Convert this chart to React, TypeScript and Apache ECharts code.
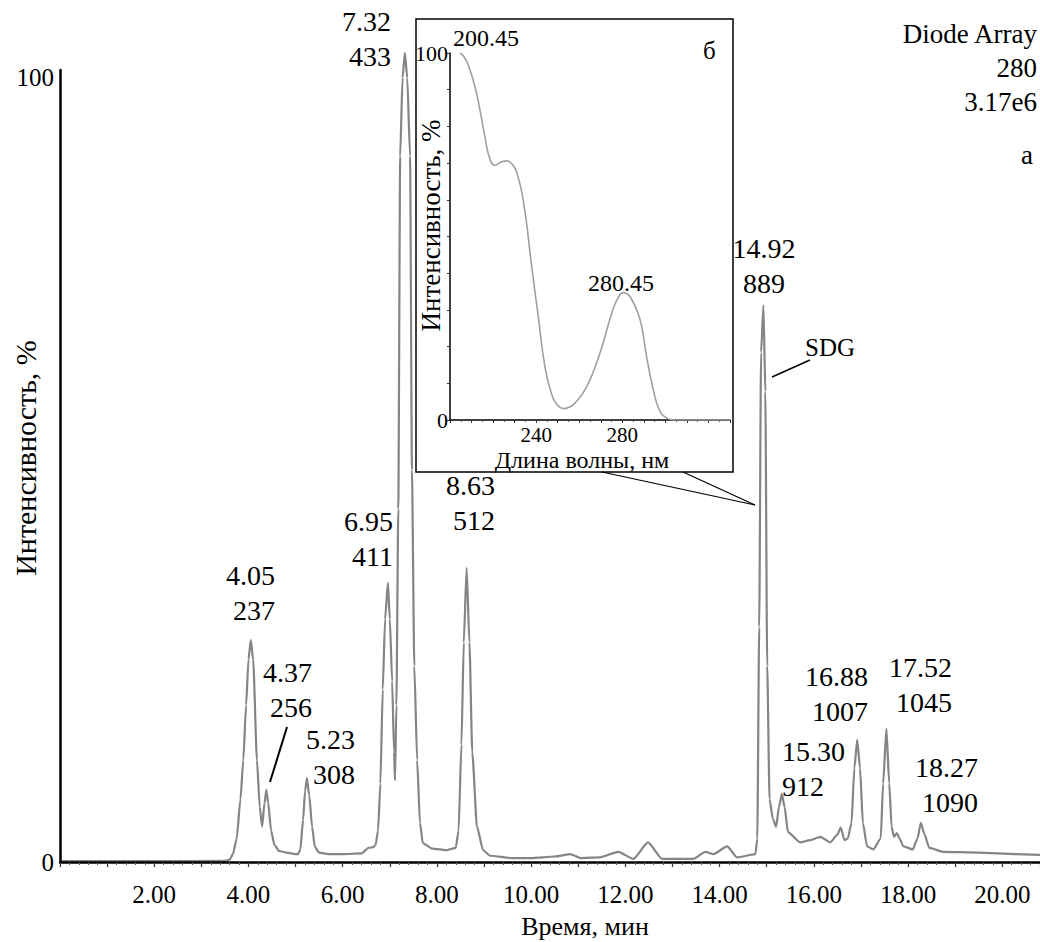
import React, { useEffect, useRef } from "react";
import * as echarts from "echarts";

const FONT = "Liberation Serif";

// Chromatogram (Diode Array, 280 nm): retention time, min / relative intensity, %
const chromTime = [
  0, 2.0, 3.5, 3.6, 3.67, 3.75, 3.83, 3.89, 3.95, 4.0, 4.05, 4.1, 4.18, 4.24, 4.29, 4.34, 4.38, 4.42,
  4.48, 4.55, 4.65, 4.8, 5.0, 5.05, 5.1, 5.16, 5.2, 5.24, 5.29, 5.35, 5.41, 5.5, 5.7, 6.0, 6.4, 6.55,
  6.65, 6.7, 6.75, 6.8, 6.85, 6.9, 6.96, 7.0, 7.05, 7.09, 7.11, 7.14, 7.18, 7.22, 7.27, 7.32, 7.37,
  7.43, 7.47, 7.52, 7.58, 7.64, 7.7, 7.9, 8.2, 8.4, 8.46, 8.52, 8.57, 8.63, 8.69, 8.75, 8.85, 8.98,
  9.13, 9.6, 10.0, 10.5, 10.83, 11.05, 11.46, 11.85, 12.17, 12.48, 12.78, 13.44, 13.7, 13.87, 14.16,
  14.37, 14.76, 14.8, 14.84, 14.88, 14.93, 14.97, 15.01, 15.06, 15.13, 15.2, 15.26, 15.32, 15.38,
  15.45, 15.71, 15.92, 16.14, 16.35, 16.5, 16.57, 16.65, 16.72, 16.8, 16.86, 16.92, 16.98, 17.04,
  17.13, 17.26, 17.42, 17.47, 17.54, 17.6, 17.65, 17.7, 17.76, 17.82, 17.9, 18.1, 18.2, 18.27, 18.35,
  18.45, 18.75, 19.5, 20.3, 20.8,
];
const chromIntensity = [
  0.1, 0.1, 0.15, 0.3, 1.0, 3, 8, 13, 20, 25.8, 28.3, 25.8, 13, 7, 4.5, 7.5, 9.2, 7.5,
  4, 2.2, 1.4, 1.2, 1.0, 1.0, 1.6, 5.4, 9, 10.7, 8.5, 4.5, 1.9, 1.2, 1.0, 1.0, 1.1, 1.8,
  1.9, 2.2, 4, 10, 22, 31, 35.6, 31, 23, 14, 10.4, 20, 45, 90, 100, 103.2, 100,
  90, 50, 25, 13, 5, 2.4, 1.7, 1.5, 1.8, 4, 15, 28, 37.5, 28, 14, 4.5, 1.5,
  0.8, 0.5, 0.5, 0.7, 1.0, 0.5, 0.6, 1.3, 0.4, 2.5, 0.4, 0.4, 1.3, 1.0, 2.0,
  0.6, 1.0, 3, 30, 65, 71.0, 60, 25, 8, 5.5, 4.5, 7, 8.7, 7,
  3.8, 2.5, 2.8, 3.2, 2.5, 3.5, 4.4, 2.8, 3.0, 5, 12, 15.6, 12, 5,
  2, 1.6, 3, 10, 17.0, 10, 4.5, 3.2, 3.7, 3.0, 2, 1.6, 3, 5.0, 3.5,
  1.8, 1.3, 1.2, 1.0, 0.9,
];

// Inset (б): UV spectrum of the 14.92 min peak: wavelength, nm / intensity, %
const spectrumWavelength = [
  204.6, 206.5, 208.5, 211.6, 213.9, 216.2, 218.6, 220.9, 223.5, 226.3, 229.0, 231.0, 234.0, 237.9,
  241.0, 244.1, 247.2, 250.0, 252.5, 255.0, 258.0, 263.5, 269.6, 275.1, 278.0, 280.5, 282.5, 284.4,
  287.0, 289.0, 291.3, 294.4, 297.0, 300.0, 305.2, 330,
];
const spectrumIntensity = [
  100, 99.0, 96.7, 90.8, 84.5, 77.2, 71.0, 69.4, 70.2, 70.6, 69.6, 67.5, 60.0, 42.0,
  28.1, 14.5, 7.0, 4.0, 3.1, 3.4, 4.6, 9.1, 18.2, 29.1, 33.3, 34.7, 34.3, 32.8,
  29.5, 25.5, 17.2, 8.2, 3.0, 0.8, 0, 0,
];

// Peak annotations: retention time / scan number
const peakRetention = ["4.05", "4.37", "5.23", "6.95", "7.32", "8.63", "14.92", "15.30", "16.88", "17.52", "18.27"];
const peakScan = ["237", "256", "308", "411", "433", "512", "889", "912", "1007", "1045", "1090"];

// Tick labels
const timeTickLabels = ["2.00", "4.00", "6.00", "8.00", "10.00", "12.00", "14.00", "16.00", "18.00", "20.00"];
const intensityTickLabels = ["0", "100"];
const wavelengthTickLabels = ["240", "280"];

// Header texts
const headerLines = ["Diode Array", "280", "3.17e6"];

// Layout of annotation text blocks (pixel positions)
const peakLabelLayout: [number, number, string][] = [
  [275, 558, "right"],
  [312, 655, "right"],
  [355, 722, "right"],
  [393, 504, "right"],
  [391, 4, "right"],
  [495, 468, "right"],
  [764, 231, "center"],
  [782, 734, "left"],
  [868, 659, "right"],
  [952, 650, "right"],
  [978, 750, "right"],
];

function txt(text: string, x: number, y: number, size: number, align = "left", va = "middle", lh?: number) {
  return {
    type: "text",
    x,
    y,
    z: 30,
    style: {
      text,
      fontSize: size,
      fontFamily: FONT,
      fill: "#000",
      align,
      verticalAlign: va,
      textAlign: align,
      textVerticalAlign: va,
      lineHeight: lh,
    },
  };
}

function line(x1: number, y1: number, x2: number, y2: number, w: number, z = 20) {
  return { type: "line", z, shape: { x1, y1, x2, y2 }, style: { stroke: "#000", lineWidth: w } };
}

export default function App() {
  const ref = useRef<HTMLDivElement>(null);

  useEffect(() => {
    if (!ref.current) return;
    const chart = echarts.init(ref.current, null, { renderer: "svg" });

    const chromData = chromTime.map((t, i) => [t, chromIntensity[i]]);
    const specData = spectrumWavelength.map((w, i) => [w, spectrumIntensity[i]]);

    const isInt = (v: number) => Math.abs(v - Math.round(v)) < 1e-6;

    const graphic: any[] = [
      {
        type: "rect",
        z: 5,
        shape: { x: 416, y: 19, width: 317, height: 453 },
        style: { fill: "#fff", stroke: "#000", lineWidth: 1.5 },
      },
      line(602, 472, 755, 505, 1.2, 6),
      line(683, 472, 755, 505, 1.2, 6),
      line(772, 377, 810, 360, 1.5),
      line(287, 727, 270, 782, 2),
      txt(headerLines.join("\n"), 1037, 17, 27, "right", "top", 34),
      txt("а", 1033, 155, 27, "right", "middle"),
      txt("SDG", 805, 347, 25, "left", "middle"),
      txt("200.45", 453, 38, 24, "left", "middle"),
      txt("б", 703, 50, 25, "left", "middle"),
      txt("280.45", 588, 283, 24, "left", "middle"),
    ];
    peakRetention.forEach((rt, i) => {
      const [x, y, align] = peakLabelLayout[i];
      graphic.push(txt(rt + "\n" + peakScan[i], x, y, 28, align, "top", 35));
    });

    chart.setOption({
      animation: false,
      backgroundColor: "#fff",
      textStyle: { fontFamily: FONT, color: "#000" },
      grid: [
        { left: 60, top: 70, width: 980, height: 792, outerBoundsMode: "none", containLabel: false },
        { left: 450, top: 53, width: 280, height: 367, outerBoundsMode: "none", containLabel: false },
      ],
      xAxis: [
        {
          type: "value",
          gridIndex: 0,
          min: 0,
          max: 20.8,
          interval: 1,
          z: 4,
          axisLine: { onZero: false, lineStyle: { color: "#000", width: 2.5 } },
          axisTick: { length: 5, lineStyle: { color: "#333", width: 1.2 } },
          minorTick: { show: true, splitNumber: 5, length: 3, lineStyle: { color: "#555", width: 1 } },
          splitLine: { show: false },
          axisLabel: {
            margin: 20,
            fontSize: 25,
            color: "#000",
            fontFamily: FONT,
            formatter: (v: number) => {
              if (!isInt(v)) return "";
              const r = Math.round(v);
              if (r % 2 !== 0 || r === 0) return "";
              return timeTickLabels[r / 2 - 1] ?? "";
            },
          },
          name: "Время, мин",
          nameLocation: "middle",
          nameGap: 51,
          nameMoveOverlap: false,
          nameTextStyle: { fontSize: 26, color: "#000", fontFamily: FONT, padding: [0, 0, 0, 70] },
        },
        {
          type: "value",
          gridIndex: 1,
          min: 200,
          max: 330,
          interval: 10,
          z: 10,
          axisLine: { onZero: false, lineStyle: { color: "#000", width: 1.5 } },
          axisTick: { length: 3, lineStyle: { color: "#333", width: 1 } },
          minorTick: { show: true, splitNumber: 2, length: 2, lineStyle: { color: "#555", width: 1 } },
          splitLine: { show: false },
          axisLabel: {
            margin: 4,
            fontSize: 21,
            color: "#000",
            fontFamily: FONT,
            formatter: (v: number) => (wavelengthTickLabels.includes(String(v)) ? String(v) : ""),
          },
          name: "Длина волны, нм",
          nameLocation: "middle",
          nameGap: 28,
          nameMoveOverlap: false,
          nameTextStyle: { fontSize: 24, color: "#000", fontFamily: FONT, padding: [0, 16, 0, 0] },
        },
      ],
      yAxis: [
        {
          type: "value",
          gridIndex: 0,
          min: 0,
          max: 101,
          interval: 100,
          z: 4,
          axisLine: { show: true, lineStyle: { color: "#000", width: 2.5 } },
          axisTick: { show: false },
          splitLine: { show: false },
          axisLabel: {
            margin: 6,
            fontSize: 25,
            color: "#000",
            fontFamily: FONT,
            formatter: (v: number) => (intensityTickLabels.includes(String(v)) ? String(v) : ""),
          },
          name: "Интенсивность, %",
          nameLocation: "middle",
          nameGap: 20,
          nameRotate: 90,
          nameMoveOverlap: false,
          nameTextStyle: { fontSize: 30, color: "#000", fontFamily: FONT, padding: [0, 0, 0, 16] },
        },
        {
          type: "value",
          gridIndex: 1,
          min: 0,
          max: 100,
          interval: 10,
          z: 10,
          axisLine: { show: true, lineStyle: { color: "#000", width: 1.5 } },
          axisTick: { show: true, length: 3, lineStyle: { color: "#333", width: 1 } },
          splitLine: { show: false },
          axisLabel: {
            margin: 2,
            fontSize: 22,
            color: "#000",
            fontFamily: FONT,
            formatter: (v: number) => (intensityTickLabels.includes(String(v)) ? String(v) : ""),
          },
          name: "Интенсивность, %",
          nameLocation: "middle",
          nameGap: 6,
          nameRotate: 90,
          nameMoveOverlap: false,
          nameTextStyle: { fontSize: 27, color: "#000", fontFamily: FONT, padding: [0, 0, 0, 22] },
        },
      ],
      series: [
        {
          type: "line",
          xAxisIndex: 0,
          yAxisIndex: 0,
          data: chromData,
          symbol: "none",
          showSymbol: false,
          smooth: 0.2,
          smoothMonotone: "x",
          clip: false,
          z: 2,
          lineStyle: { color: "#858585", width: 2.2 },
        },
        {
          type: "line",
          xAxisIndex: 1,
          yAxisIndex: 1,
          data: specData,
          symbol: "none",
          showSymbol: false,
          smooth: 0.5,
          z: 10,
          lineStyle: { color: "#a0a0a0", width: 1.6 },
        },
      ],
      graphic,
    });

    return () => chart.dispose();
  }, []);

  return (
    <div
      ref={ref}
      style={{ position: "fixed", left: 0, top: 0, width: 1040, height: 942, background: "#fff" }}
    />
  );
}
